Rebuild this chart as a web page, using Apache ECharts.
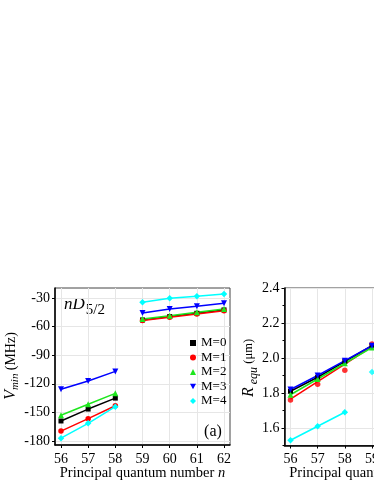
<!DOCTYPE html>
<html>
<head>
<meta charset="utf-8">
<script src="https://cdn.jsdelivr.net/npm/echarts@6.0.0/dist/echarts.min.js"></script>
<style>
  html, body { margin: 0; padding: 0; background: #fff; }
  #chart { width: 374px; height: 484px; }
</style>
</head>
<body>
<div id="chart"></div>
<script>
// principal quantum number n
const nLow = [56, 57, 58];
const nHigh = [59, 60, 61, 62];
const nRight = [56, 57, 58, 59];

// panel (a): V_min (MHz), values for n = 56..62
const vM0 = [-159, -146.5, -135, -53, -49.5, -46, -42.5];
const vM1 = [-169.6, -156.6, -143, -53.7, -50.2, -46.7, -43.3];
const vM2 = [-153, -141.5, -130, -52, -48.5, -45, -41.5];
const vM3 = [-125.8, -117, -107, -45.7, -41.5, -38.7, -35.5];
const vM4 = [-177, -161.5, -144, -34.5, -30.3, -28.2, -25.8];

// panel (b): R_equ (um), values for n = 56..59
const rM0 = [1.81, 1.89, 1.98, 2.07];
const rM1 = [1.76, 1.85, 1.93, 2.08];
const rM1Fit = [1.765, 1.865, 1.965, 2.065];
const rM2 = [1.79, 1.88, 1.97, 2.06];
const rM3 = [1.82, 1.90, 1.985, 2.07];
const rM4 = [1.53, 1.61, 1.69, 1.92];

const xTicks = [56, 57, 58, 59, 60, 61, 62];
const vTicks = [-180, -150, -120, -90, -60, -30];
const rTicks = [1.6, 1.8, 2.0, 2.2, 2.4];
const rMinorTicks = [1.5, 1.7, 1.9, 2.1, 2.3];

const serif = 'Liberation Serif';
const downTri = 'path://M0,0L10,0L5,9Z';

const mStyles = [
  { name: 'M=0', color: '#000000', symbol: 'rect', size: 5 },
  { name: 'M=1', color: '#ff0000', symbol: 'circle', size: 5.5 },
  { name: 'M=2', color: '#1ee61e', symbol: 'triangle', size: 6 },
  { name: 'M=3', color: '#0000ff', symbol: downTri, size: 6 },
  { name: 'M=4', color: '#00ffff', symbol: 'diamond', size: 6.5 }
];
const vData = [vM0, vM1, vM2, vM3, vM4];
const rData = [rM0, rM1, rM2, rM3, rM4];

function pairs(xs, ys) {
  return xs.map((x, i) => [x, ys[i]]);
}

function xAxisOf(grid) {
  return {
    type: 'value', gridIndex: grid, min: 55.78, max: 62.22,
    axisLine: { show: true, onZero: false, lineStyle: { color: '#000', width: 1.5 } },
    axisTick: { show: true, length: 3, customValues: xTicks, lineStyle: { color: '#000' } },
    axisLabel: { customValues: xTicks, fontFamily: serif, fontSize: 14, color: '#000', margin: 7 },
    splitLine: { show: true, customValues: xTicks, lineStyle: { color: '#e6e6e6' } }
  };
}

const series = [];
mStyles.forEach((m, k) => {
  const v = vData[k];
  const base = {
    name: m.name, type: 'line', symbol: m.symbol, symbolSize: m.size,
    itemStyle: { color: m.color }, lineStyle: { color: m.color, width: 1.5 },
    showAllSymbol: true, animation: false
  };
  series.push(Object.assign({}, base, { xAxisIndex: 0, yAxisIndex: 0, data: pairs(nLow, v.slice(0, 3)) }));
  series.push(Object.assign({}, base, { xAxisIndex: 0, yAxisIndex: 0, data: pairs(nHigh, v.slice(3)) }));
  // panel (b)
  const r = rData[k];
  if (k === 1) {
    series.push(Object.assign({}, base, { xAxisIndex: 1, yAxisIndex: 1, symbol: 'none', data: pairs(nRight, rM1Fit) }));
    series.push(Object.assign({}, base, { type: 'scatter', xAxisIndex: 1, yAxisIndex: 1, data: pairs(nRight, r) }));
  } else if (k === 4) {
    series.push(Object.assign({}, base, { xAxisIndex: 1, yAxisIndex: 1, data: pairs(nRight.slice(0, 3), r.slice(0, 3)) }));
    series.push(Object.assign({}, base, { type: 'scatter', xAxisIndex: 1, yAxisIndex: 1, data: pairs(nRight.slice(3), r.slice(3)) }));
  } else {
    series.push(Object.assign({}, base, { xAxisIndex: 1, yAxisIndex: 1, data: pairs(nRight, r) }));
  }
});

const option = {
  animation: false,
  backgroundColor: '#fff',
  grid: [
    { left: 55, top: 288, width: 175, height: 157, show: true, borderColor: '#444', borderWidth: 1, outerBoundsMode: 'none' },
    { left: 284.5, top: 288, width: 175, height: 157.5, show: true, borderColor: '#444', borderWidth: 1, outerBoundsMode: 'none' }
  ],
  legend: {
    orient: 'vertical', left: 185, top: 331.5,
    itemWidth: 6, itemHeight: 6, itemGap: 1.5,
    textStyle: { fontFamily: serif, fontSize: 13, color: '#000' },
    data: mStyles.map(m => ({ name: m.name, icon: m.symbol }))
  },
  xAxis: [xAxisOf(0), xAxisOf(1)],
  yAxis: [
    {
      type: 'value', gridIndex: 0, min: -184.2, max: -19.5,
      axisLine: { show: true, onZero: false, lineStyle: { color: '#000', width: 1.5 } },
      axisTick: { show: true, length: 3, customValues: vTicks, lineStyle: { color: '#000' } },
      axisLabel: { customValues: vTicks, fontFamily: serif, fontSize: 14, color: '#000', margin: 5 },
      splitLine: { show: true, customValues: vTicks, lineStyle: { color: '#e6e6e6' } }
    },
    {
      type: 'value', gridIndex: 1, min: 1.5, max: 2.4, position: 'left',
      axisLine: { show: true, onZero: false, lineStyle: { color: '#000', width: 1.5 } },
      axisTick: { show: true, length: 3, customValues: rTicks, lineStyle: { color: '#000' } },
      axisLabel: { customValues: rTicks, fontFamily: serif, fontSize: 14, color: '#000', margin: 5,
        formatter: v => v.toFixed(1) },
      splitLine: { show: true, customValues: rTicks, lineStyle: { color: '#e6e6e6' } }
    },
    {
      // minor ticks of panel (b)
      type: 'value', gridIndex: 1, min: 1.5, max: 2.4, position: 'left',
      axisLine: { show: false, onZero: false },
      axisTick: { show: true, length: 2, customValues: rMinorTicks, lineStyle: { color: '#000' } },
      axisLabel: { show: false },
      splitLine: { show: false }
    }
  ],
  graphic: [
    {
      type: 'text', x: 142.5, y: 466,
      style: {
        text: 'Principal quantum number {i|n}', align: 'center', verticalAlign: 'top',
        fontFamily: serif, fontSize: 14.5, fill: '#000',
        rich: { i: { fontFamily: serif, fontSize: 14.5, fontStyle: 'italic' } }
      }
    },
    {
      type: 'text', x: 372, y: 466,
      style: {
        text: 'Principal quantum number {i|n}', align: 'center', verticalAlign: 'top',
        fontFamily: serif, fontSize: 14.5, fill: '#000',
        rich: { i: { fontFamily: serif, fontSize: 14.5, fontStyle: 'italic' } }
      }
    },
    {
      type: 'text', x: 11, y: 366, rotation: Math.PI / 2,
      style: {
        text: '{v|V}{s|min} {u|(MHz)}', align: 'center', verticalAlign: 'middle', fill: '#000',
        rich: {
          v: { fontFamily: serif, fontSize: 16, fontStyle: 'italic' },
          s: { fontFamily: serif, fontSize: 11, fontStyle: 'italic', padding: [9, 0, 0, 0] },
          u: { fontFamily: serif, fontSize: 14 }
        }
      }
    },
    {
      type: 'text', x: 249, y: 368, rotation: Math.PI / 2,
      style: {
        text: '{v|R}{s| equ} {u|(μm)}', align: 'center', verticalAlign: 'middle', fill: '#000',
        rich: {
          v: { fontFamily: serif, fontSize: 16, fontStyle: 'italic' },
          s: { fontFamily: serif, fontSize: 12, fontStyle: 'italic', padding: [9, 0, 0, 0] },
          u: { fontFamily: serif, fontSize: 12.5 }
        }
      }
    },
    {
      type: 'text', x: 64, y: 305,
      style: {
        text: '{n|nD}{s|5/2}', align: 'left', verticalAlign: 'middle', fill: '#000',
        rich: {
          n: { fontFamily: serif, fontSize: 17, fontStyle: 'italic' },
          s: { fontFamily: serif, fontSize: 15, padding: [11, 0, 0, 1] }
        }
      }
    },
    {
      type: 'text', x: 213, y: 432,
      style: { text: '(a)', align: 'center', verticalAlign: 'middle', fontFamily: serif, fontSize: 16, fill: '#000' }
    }
  ],
  series: series
};

const myChart = echarts.init(document.getElementById('chart'));
myChart.setOption(option);
</script>
</body>
</html>
